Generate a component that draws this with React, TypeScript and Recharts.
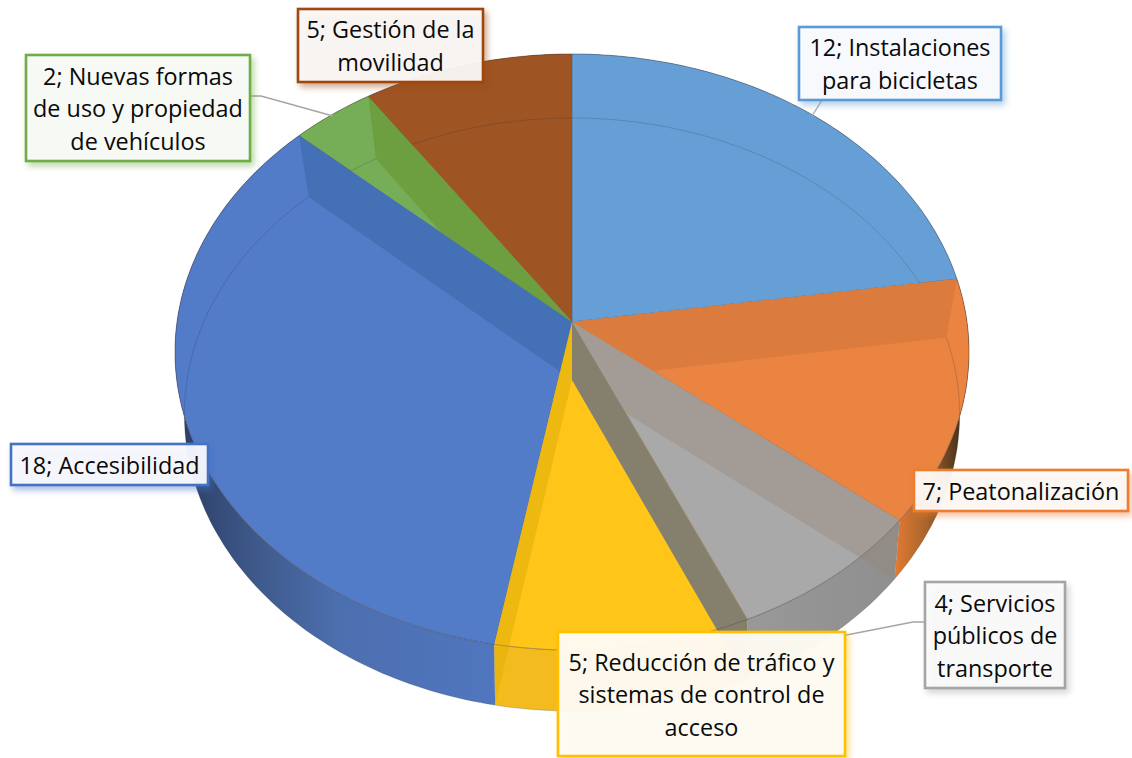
import React from 'react'
import { PieChart, Pie } from 'recharts'

// ── Data ──────────────────────────────────────────────────────────────────────

const categories = [
  'Instalaciones para bicicletas',
  'Peatonalización',
  'Servicios públicos de transporte',
  'Reducción de tráfico y sistemas de control de acceso',
  'Accesibilidad',
  'Nuevas formas de uso y propiedad de vehículos',
  'Gestión de la movilidad',
]
const values = [12, 7, 4, 5, 18, 2, 5]

// how each data label wraps
const labelLines = [
  ['12; Instalaciones', 'para bicicletas'],
  ['7; Peatonalización'],
  ['4; Servicios', 'públicos de', 'transporte'],
  ['5; Reducción de tráfico y', 'sistemas de control de', 'acceso'],
  ['18; Accesibilidad'],
  ['2; Nuevas formas', 'de uso y propiedad', 'de vehículos'],
  ['5; Gestión de la', 'movilidad'],
]

// ── Styles ────────────────────────────────────────────────────────────────────

const topColors = ['#669FD6', '#EA8440', '#A9A9A9', '#FFC519', '#527BC8', '#75AE56', '#9E5423']
const outlineColors = ['#5B9BD5', '#ED7D31', '#A5A5A5', '#FFC000', '#4472C4', '#70AD47', '#9E480E']
const boxFills = ['#FBFCFE', '#FDFAF8', '#FBFBFB', '#FDFCF8', '#F9FAFD', '#FAFBF9', '#FBF9F8']
// cut face at the start edge of each slice, seen through the top
const faceColors = ['#669FD6', '#DB7B3D', '#A39C96', '#857F6E', '#EDB80F', '#4471B5', '#6D9E3F']
const wallFills = ['#5B8FC4', 'url(#wallOrange)', 'url(#wallGrey)', '#F7BE1E', 'url(#wallBlue)', '#6A9E48', '#8F4C1E']
const faceOrder = [1, 2, 3, 6, 5, 4]

const labelBoxes = [
  { x: 799, y: 27, w: 202, h: 73 },
  { x: 914, y: 470, w: 214, h: 41 },
  { x: 925, y: 582, w: 140, h: 106 },
  { x: 558, y: 632, w: 287, h: 124 },
  { x: 11, y: 444, w: 197, h: 41 },
  { x: 26, y: 55, w: 224, h: 106 },
  { x: 298, y: 9, w: 185, h: 73 },
]
const leaderLines: Record<number, string> = {
  0: '822,100 812,116',
  2: '925,622 913,622 780,648',
  5: '250,96 261,96 333,116',
}

// ── Projection (tilted disc, top face and bottom face) ────────────────────────

const CX = 572
const TOP = { cy: 322, a: 295, b: 395, p: 0.1007 }
const BOTTOM = { cy: 380, a: 292.5, b: 385, p: 0.1164 }

type Plane = typeof TOP

function project(plane: Plane, angle: number): [number, number] {
  const rad = (angle * Math.PI) / 180
  const u = Math.cos(rad)
  const v = Math.sin(rad)
  const d = 1 + plane.p * v
  return [CX + (plane.b * u) / d, plane.cy - (plane.a * v) / d]
}

function arc(plane: Plane, from: number, to: number): [number, number][] {
  const n = Math.max(2, Math.ceil(Math.abs(to - from)))
  const pts: [number, number][] = []
  for (let i = 0; i <= n; i++) pts.push(project(plane, from + ((to - from) * i) / n))
  return pts
}

const toPath = (pts: [number, number][], close = true) =>
  'M' + pts.map((p) => `${p[0].toFixed(1)},${p[1].toFixed(1)}`).join('L') + (close ? 'Z' : '')

// ── Slice shapes, one per layer ───────────────────────────────────────────────

function WallShape(props: any) {
  const { startAngle, endAngle, index } = props
  const pts = [...arc(TOP, startAngle, endAngle), ...arc(BOTTOM, endAngle, startAngle)]
  return <path d={toPath(pts)} fill={wallFills[index]} />
}

function TopShape(props: any) {
  const { startAngle, endAngle, index } = props
  const pts: [number, number][] = [[CX, TOP.cy], ...arc(TOP, startAngle, endAngle)]
  return <path d={toPath(pts)} fill={topColors[index]} stroke="rgba(90,70,50,0.3)" strokeWidth={0.8} />
}

// the rim of the bottom face shows faintly through the top, the cut faces hide part of it
function BottomRimShape(props: any) {
  const { startAngle, endAngle } = props
  return (
    <path
      d={toPath(arc(BOTTOM, startAngle, endAngle), false)}
      fill="none"
      stroke="rgba(40,40,60,0.2)"
      strokeWidth={1}
    />
  )
}

const faceShape = (only: number) => (props: any) => {
  const { startAngle, index } = props
  if (index !== only) return <g />
  const pts: [number, number][] = [
    [CX, TOP.cy],
    project(TOP, startAngle),
    project(BOTTOM, startAngle),
    [CX, BOTTOM.cy],
  ]
  return <path d={toPath(pts)} fill={faceColors[index]} />
}

function VeilShape(props: any) {
  const { startAngle, endAngle, index } = props
  if (index !== 2 && index !== 3) return <g />
  const pts = [...arc(TOP, startAngle, endAngle), ...arc(BOTTOM, endAngle, startAngle)]
  return <path d={toPath(pts)} fill={index === 2 ? 'rgba(40,40,40,0.14)' : 'rgba(120,90,0,0.03)'} />
}

function TopRimShape(props: any) {
  const { startAngle, endAngle } = props
  return (
    <path
      d={toPath(arc(TOP, startAngle, endAngle), false)}
      fill="none"
      stroke="rgba(40,40,60,0.25)"
      strokeWidth={1}
    />
  )
}

// ── Data labels ───────────────────────────────────────────────────────────────

function DataLabel(props: any) {
  const { index } = props
  const box = labelBoxes[index]
  const lines = labelLines[index]
  const lineHeight = 32.5
  const first = box.y + box.h / 2 - ((lines.length - 1) * lineHeight) / 2 + 9
  return (
    <g>
      {leaderLines[index] && (
        <polyline points={leaderLines[index]} fill="none" stroke="#A5A5A5" strokeWidth={1.3} />
      )}
      <rect
        x={box.x}
        y={box.y}
        width={box.w}
        height={box.h}
        fill={boxFills[index]}
        fillOpacity={0.95}
        stroke={outlineColors[index]}
        strokeWidth={2.6}
        style={{ filter: `drop-shadow(3px 4px 3px ${outlineColors[index]}77)` }}
      />
      {lines.map((line, i) => (
        <text
          key={line}
          x={box.x + box.w / 2}
          y={first + i * lineHeight}
          textAnchor="middle"
          fontSize={23.4}
          fontFamily="'Open Sans', 'Noto Sans', sans-serif"
          fill="#0A0A0A"
        >
          {line}
        </text>
      ))}
    </g>
  )
}

// ── Chart ─────────────────────────────────────────────────────────────────────

const data = categories.map((name, i) => ({ name, value: values[i] }))

const pieProps = {
  data,
  dataKey: 'value',
  nameKey: 'name',
  cx: CX,
  cy: TOP.cy,
  outerRadius: TOP.b,
  startAngle: 90,
  endAngle: -270,
  stroke: 'none',
  isAnimationActive: false,
  labelLine: false,
}

export default function App() {
  return (
    <div style={{ position: 'absolute', left: 0, top: 0, width: 1132, height: 758, background: '#fff' }}>
      <PieChart width={1132} height={758} margin={{ top: 0, right: 0, bottom: 0, left: 0 }}>
        <defs>
          <linearGradient id="wallBlue" gradientUnits="userSpaceOnUse" x1={180} y1={0} x2={497} y2={0}>
            <stop offset="0" stopColor="#2B3F66" />
            <stop offset="0.25" stopColor="#3F5A8C" />
            <stop offset="0.5" stopColor="#4C6FAF" />
            <stop offset="1" stopColor="#5076BE" />
          </linearGradient>
          <linearGradient id="wallOrange" gradientUnits="userSpaceOnUse" x1={888} y1={0} x2={965} y2={0}>
            <stop offset="0" stopColor="#EE7F35" />
            <stop offset="0.5" stopColor="#A8642C" />
            <stop offset="1" stopColor="#3A2A18" />
          </linearGradient>
          <linearGradient id="wallGrey" gradientUnits="userSpaceOnUse" x1={748} y1={0} x2={890} y2={0}>
            <stop offset="0" stopColor="#ABABAB" />
            <stop offset="1" stopColor="#A0A0A0" />
          </linearGradient>
        </defs>
        <Pie {...pieProps} shape={WallShape} />
        <Pie {...pieProps} shape={TopShape} />
        <Pie {...pieProps} shape={BottomRimShape} />
        {faceOrder.map((i) => (
          <Pie key={i} {...pieProps} shape={faceShape(i)} />
        ))}
        <Pie {...pieProps} shape={VeilShape} />
        <Pie {...pieProps} shape={TopRimShape} label={DataLabel} />
      </PieChart>
    </div>
  )
}
